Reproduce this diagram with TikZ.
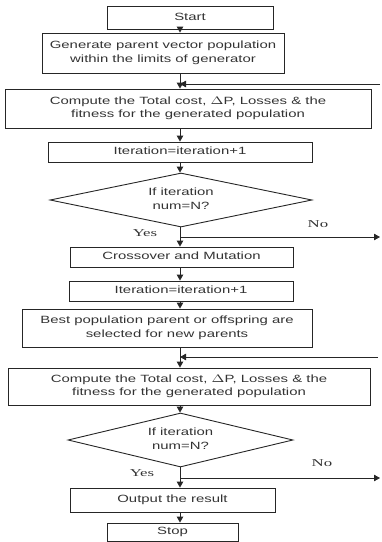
\documentclass[tikz,border=0pt]{standalone}
\usepackage{fontspec}
\setmainfont{Liberation Sans}
\newfontfamily\yesfont{Liberation Serif}
\usetikzlibrary{shapes.geometric,arrows.meta}
\newcommand{\wtxt}[1]{\scalebox{1.42}[1]{\begin{tabular}{@{}c@{}}#1\end{tabular}}}
\newcommand{\stxt}[1]{\scalebox{1.6}[1]{#1}}
\definecolor{linec}{HTML}{262626}
\definecolor{textc}{HTML}{333333}
\tikzset{
  box/.style={draw=linec, line width=0.9pt, rectangle, inner sep=0pt,
    font=\fontsize{10.5}{13.5}\selectfont, text=textc},
  dec/.style={draw=linec, line width=0.9pt, diamond, inner sep=0pt,
    font=\fontsize{10.5}{13.5}\selectfont, text=textc},
  arr/.style={draw=linec, line width=0.9pt, -{Triangle[length=6pt,width=6.5pt]}},
  lbl/.style={font=\yesfont\fontsize{10.5}{12}\selectfont, text=textc, inner sep=0pt}
}
\begin{document}
\begin{tikzpicture}[x=1pt,y=-1pt]
\useasboundingbox (0,0) rectangle (382,542);
\coordinate (ax) at (180,0);
\node[box, minimum width=166pt, minimum height=23pt] (start) at (190,17.5) {\wtxt{Start}};
\node[box, minimum width=242pt, minimum height=40pt] (gen) at (163,53) {\wtxt{Generate parent vector population\\within the limits of generator}};
\node[box, minimum width=366pt, minimum height=39pt] (comp1) at (188,108.5) {\wtxt{Compute the Total cost, $\Delta$P, Losses \& the\\fitness for the generated population}};
\node[box, minimum width=264pt, minimum height=20pt] (iter1) at (180,152) {\wtxt{Iteration=iteration+1}};
\node[dec, shape aspect=4.85, minimum width=262pt, minimum height=54pt] (dia1) at (181,200) {\wtxt{If iteration\\num=N?}};
\node[box, minimum width=223pt, minimum height=20pt] (cross) at (181.5,257) {\wtxt{Crossover and Mutation}};
\node[box, minimum width=224pt, minimum height=20pt] (iter2) at (181,291) {\wtxt{Iteration=iteration+1}};
\node[box, minimum width=290pt, minimum height=38pt] (best) at (167,328) {\wtxt{Best population parent or offspring are\\selected for new parents}};
\node[box, minimum width=362pt, minimum height=37pt] (comp2) at (189,386.5) {\wtxt{Compute the Total cost, $\Delta$P, Losses \& the\\fitness for the generated population}};
\node[dec, shape aspect=4.17, minimum width=225pt, minimum height=54pt] (dia2) at (180.5,440) {\wtxt{If iteration\\num=N?}};
\node[box, minimum width=205pt, minimum height=24pt] (out) at (172.5,500) {\wtxt{Output the result}};
\node[box, minimum width=131pt, minimum height=18pt] (stop) at (172.5,532) {\wtxt{Stop}};
% labels
\node[lbl] (yes1) at (145,233) {\stxt{Yes}};
\node[lbl] (no1l) at (318,224) {\stxt{No}};
\node[lbl] (yes2) at (142,473) {\stxt{Yes}};
\node[lbl] (no2l) at (322,463) {\stxt{No}};
% connectors
\draw[arr] (start.south -| ax) -- (gen.north -| ax);
\draw[arr] (gen.south -| ax) -- (comp1.north -| ax);
\coordinate (fb1) at (380,84);
\draw[arr] (fb1) -- (fb1 -| ax);
\draw[arr] (comp1.south -| ax) -- (iter1.north -| ax);
\draw[arr] (iter1.south -| ax) -- (dia1.north -| ax);
\draw[arr] (dia1.south -| ax) -- (cross.north -| ax);
\coordinate (no1) at (380,237);
\draw[arr] (no1 -| ax) -- (no1);
\draw[arr] (cross.south -| ax) -- (iter2.north -| ax);
\draw[arr] (iter2.south -| ax) -- (best.north -| ax);
\draw[arr] (best.south -| ax) -- (comp2.north -| ax);
\coordinate (fb2) at (378,357);
\draw[arr] (fb2) -- (fb2 -| ax);
\draw[arr] (comp2.south -| ax) -- (dia2.north -| ax);
\draw[arr] (dia2.south -| ax) -- (out.north -| ax);
\coordinate (no2) at (380,478);
\draw[arr] (no2 -| ax) -- (no2);
\draw[arr] (out.south -| ax) -- (stop.north -| ax);
\end{tikzpicture}
\end{document}
